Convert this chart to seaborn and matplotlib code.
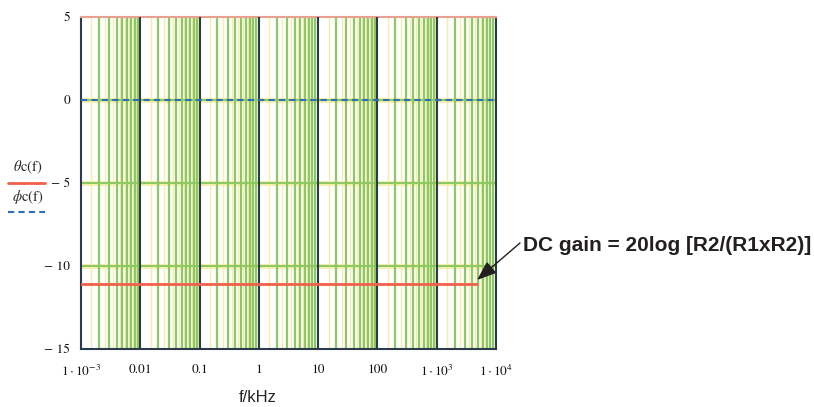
import matplotlib
matplotlib.use("Agg")
import matplotlib.pyplot as plt
import seaborn as sns
import pandas as pd

# data
freq_khz = [1e-3, 0.01, 0.1, 1, 10, 100, 1e3, 4.8e3]
theta_c = [-11.1, -11.1, -11.1, -11.1, -11.1, -11.1, -11.1, -11.1]
freq_phi = [1e-3, 0.01, 0.1, 1, 10, 100, 1e3, 1e4]
phi_c = [0, 0, 0, 0, 0, 0, 0, 0]

x_ticks = [1e-3, 0.01, 0.1, 1, 10, 100, 1e3, 1e4]
x_labels = [r"$1\cdot10^{-3}$", "0.01", "0.1", "1", "10", "100",
            r"$1\cdot10^{3}$", r"$1\cdot10^{4}$"]
y_ticks = [5, 0, -5, -10, -15]
y_labels = ["5", "0", "\u2212 5", "\u2212 10", "\u2212 15"]

sns.set_style("white")
plt.rcParams["mathtext.fontset"] = "stix"

df_theta = pd.DataFrame({"f": freq_khz, "v": theta_c})
df_phi = pd.DataFrame({"f": freq_phi, "v": phi_c})

fig = plt.figure(figsize=(8.14, 4.07), dpi=100)
ax = fig.add_axes([81 / 814, 1 - 349 / 407, (496 - 81) / 814, (349 - 17) / 407])
ax.set_xscale("log")
ax.set_xlim(1e-3, 1e4)
ax.set_ylim(-15, 5)

dark = "#2b3a4d"
green = "#8cc866"
yellow = "#f3eeaa"

# log grid, Mathcad style
for d in range(-3, 4):
    base = 10.0 ** d
    for k in range(1, 10):
        ax.axvline(base * (k + 0.5), color=yellow, lw=1.0, zorder=1)
    for k in range(2, 10):
        ax.axvline(base * k, color=green, lw=1.6, zorder=2)
for d in range(-2, 4):
    ax.axvline(10.0 ** d, color=dark, lw=1.5, zorder=3)
for yv in [0, -5, -10]:
    ax.axhline(yv, color=yellow, lw=3.5, zorder=1.5)
    ax.axhline(yv, color=green, lw=1.4, zorder=2.5)

sns.lineplot(data=df_theta, x="f", y="v", ax=ax, color="#f0604a", lw=2.0, zorder=5)
sns.lineplot(data=df_phi, x="f", y="v", ax=ax, color="#2d6fb8", lw=1.5,
             linestyle=(0, (3, 2)), zorder=5)

for s in ax.spines.values():
    s.set_color(dark)
    s.set_linewidth(1.5)
ax.spines["top"].set_color("#e8a090")

ax.set_xticks(x_ticks)
ax.set_xticklabels(x_labels, fontsize=9.5, family="STIXGeneral", color="#111111")
ax.set_yticks(y_ticks)
ax.set_yticklabels(y_labels, fontsize=9.5, family="STIXGeneral", color="#111111")
ax.minorticks_off()
ax.tick_params(axis="x", length=0, pad=11)
ax.tick_params(axis="y", length=0, pad=8)
ax.set_xlabel("")
ax.set_ylabel("")

fig.text(258 / 814, 1 - 398 / 407, "f/kHz", family="Liberation Sans",
         fontsize=12, ha="center", va="center")

# legend-like labels at left
fig.text(28 / 814, 1 - 167 / 407, r"$\theta$c(f)", family="STIXGeneral",
         fontsize=10.5, ha="center", va="center")
fig.add_artist(plt.Line2D([8 / 814, 45 / 814], [1 - 183 / 407] * 2,
                          color="#f0604a", lw=2.0))
fig.text(28 / 814, 1 - 197 / 407, r"$\phi$c(f)", family="STIXGeneral",
         fontsize=10.5, ha="center", va="center")
fig.add_artist(plt.Line2D([8 / 814, 45 / 814], [1 - 212 / 407] * 2,
                          color="#2d6fb8", lw=1.5, linestyle=(0, (3, 2))))

# annotation text and arrow
fig.text(523 / 814, 1 - 245 / 407, "DC gain = 20log [R2/(R1xR2)]",
         fontsize=15, fontweight="bold", family="Liberation Sans",
         color="#231f20", ha="left", va="center")
ax.annotate("", xy=(477 / 814, 1 - 280 / 407), xycoords="figure fraction",
            xytext=(520 / 814, 1 - 243 / 407), textcoords="figure fraction",
            arrowprops=dict(arrowstyle="-|>,head_length=1.2,head_width=0.45",
                            color="#231f20", lw=1.0, shrinkA=0, shrinkB=0))

fig.savefig("out.png", dpi=100)
